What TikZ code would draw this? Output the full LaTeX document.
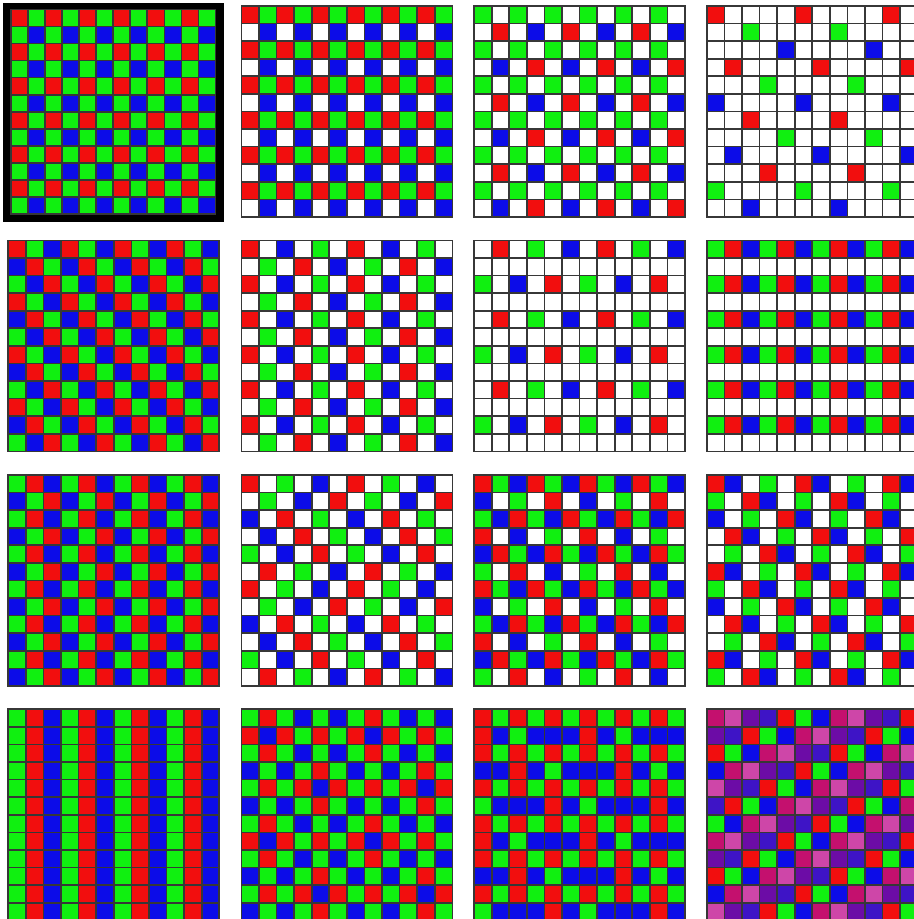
\documentclass[tikz,border=0pt]{standalone}

\definecolor{cfaR}{RGB}{242,14,14}
\definecolor{cfaG}{RGB}{16,240,16}
\definecolor{cfaB}{RGB}{12,12,232}
\definecolor{cfaW}{RGB}{255,255,255}
\definecolor{cfaM}{RGB}{196,16,110}
\definecolor{cfaP}{RGB}{206,70,168}
\definecolor{cfaU}{RGB}{108,12,166}
\definecolor{cfaV}{RGB}{62,20,198}
\definecolor{gridc}{RGB}{55,55,55}

\tikzset{cellbox/.style={draw=gridc,line width=0.5mm}}

% one filter cell per letter of the row string
\newcount\cfacol
\def\cfacells#1{\ifx#1\relax\else
  \ifnum\cfacol<12 \filldraw[cellbox,fill=cfa#1] (\the\cfacol,\cfarow) rectangle ++(1,1);\fi
  \advance\cfacol by 1
  \expandafter\cfacells\fi}

% #1,#2 top left corner, #3 cell size, #4 rows of the tile
\newcommand\cfapanel[4]{%
  \begin{scope}[shift={(#1,#2)},scale=#3]
  \foreach \tilerow [count=\cfarow from 0] in {#4,#4,#4,#4,#4,#4,#4,#4,#4,#4,#4,#4}{
    \ifnum\cfarow<12
      \cfacol=0
      \edef\cfastr{\tilerow\tilerow\tilerow\tilerow\tilerow\tilerow\tilerow\tilerow\tilerow\tilerow\tilerow\tilerow}
      \expandafter\cfacells\cfastr\relax
    \fi
  }
  \end{scope}}

\begin{document}
\begin{tikzpicture}[x=0.3mm,y=-0.3mm]
\useasboundingbox (0,0) rectangle (914,919);
\fill[white] (0,0) rectangle (914,919);
\clip (0,0) rectangle (914,919);

% first row
\fill[black] (3,3) rectangle (223.5,221.5);
\cfapanel{11}{9.5}{17.04}{RG,GB}
\cfapanel{241.4}{6}{17.58}{RG,WB}
\cfapanel{474.1}{6}{17.58}{GWGW,WRWB,GWGW,WBWR}
\cfapanel{706.8}{6}{17.58}{RWWWW,WWGWW,WWWWB,WRWWW,WWWGW,BWWWW,WWRWW,WWWWG,WBWWW,WWWRW,GWWWW,WWBWW}

% second row
\cfapanel{8.3}{240.4}{17.58}{RGB,BRG,GBR}
\cfapanel{241.4}{240.4}{17.58}{RWBWGW,WGWRWB}
\cfapanel{474.1}{240.4}{17.58}{WRWGWB,W,GWBWRW,W}
\cfapanel{706.8}{240.4}{17.58}{GRB,W}

% third row
\cfapanel{8.3}{475}{17.58}{GRB,BGR}
\cfapanel{241.4}{475}{17.58}{RWGWBW,WGWBWR,BWRWGW,WBWRWG,GWBWRW,WRWGWB}
\cfapanel{474.1}{475}{17.58}{RGBRGB,BWGWRW,GBRGBR,RWBWGW,BRGBRG,GWRWBW}
\cfapanel{706.8}{475}{17.58}{RBWGW,GWRBW,BWGWR,WRBWG,WGWRB}

% fourth row
\cfapanel{8.3}{709.3}{17.58}{GRB}
\cfapanel{241.4}{709.3}{17.58}{GRGBGB,RBRGRG,GRGBGB,BGBGRG,GRGRBR,BGBGRG}
\cfapanel{474.1}{709.3}{17.58}{RG,RBGBBB,RG,BBRBGB,RG,GBBBRB}
\cfapanel{706.8}{709.3}{17.58}{MPUVRGB,UVRGBMP,RGBMPUV,BMPUVRG,PUVRGBM,VRGBMPU,GBMPUVR}
\end{tikzpicture}
\end{document}
